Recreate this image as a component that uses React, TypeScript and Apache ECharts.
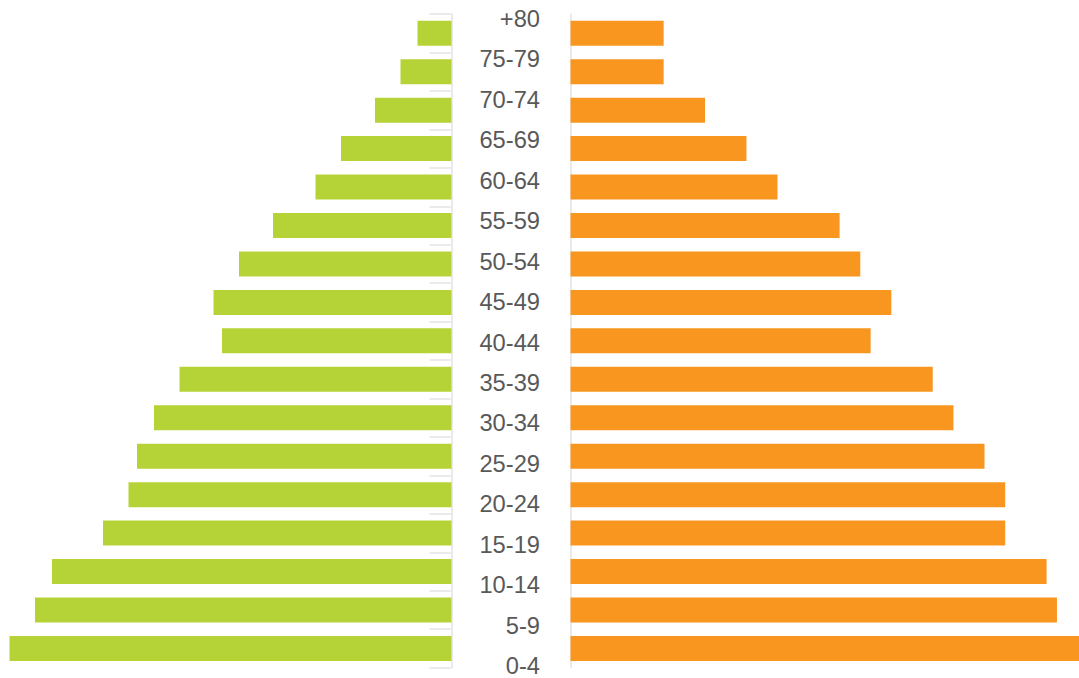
import React, { useEffect, useRef } from "react";
import * as echarts from "echarts";

const ageGroups = [
  "0-4", "5-9", "10-14", "15-19", "20-24", "25-29", "30-34", "35-39",
  "40-44", "45-49", "50-54", "55-59", "60-64", "65-69", "70-74", "75-79", "+80",
];
const leftValues = [52, 49, 47, 41, 38, 37, 35, 32, 27, 28, 25, 21, 16, 13, 9, 6, 4];
const rightValues = [50, 47, 46, 42, 42, 40, 37, 35, 29, 31, 28, 26, 20, 17, 13, 9, 9];

const GREEN = "#b5d336";
const ORANGE = "#f99620";
const AXIS_GRAY = "#e3e3e3";

export default function App() {
  const ref = useRef<HTMLDivElement>(null);

  useEffect(() => {
    if (!ref.current) return;
    const chart = echarts.init(ref.current, null, { renderer: "svg" });
    const barTop = 14;
    const barHeight = 653.7;
    const rightWidth = 508.5;
    const rightMax = rightWidth / 10.35;
    chart.setOption({
      animation: false,
      backgroundColor: "#ffffff",
      grid: [
        { left: 9.5, width: 442, top: barTop, height: barHeight },
        { left: 570.5, width: rightWidth, top: barTop, height: barHeight },
        { left: 541, width: 1, top: 19, height: 650 },
      ],
      xAxis: [
        { type: "value", gridIndex: 0, min: 0, max: 52, inverse: true, show: false },
        { type: "value", gridIndex: 1, min: 0, max: rightMax, show: false },
        { type: "value", gridIndex: 2, min: 0, max: 1, show: false },
      ],
      yAxis: [
        {
          type: "category",
          gridIndex: 0,
          data: ageGroups,
          position: "right",
          axisLine: { show: true, lineStyle: { color: AXIS_GRAY, width: 1.5 } },
          axisTick: { show: true, inside: true, length: 22, lineStyle: { color: "#e6e6e6", width: 1.6 } },
          axisLabel: { show: false },
          splitLine: { show: false },
        },
        {
          type: "category",
          gridIndex: 1,
          data: ageGroups,
          position: "left",
          axisLine: { show: true, lineStyle: { color: AXIS_GRAY, width: 1.5 } },
          axisTick: { show: false },
          axisLabel: { show: false },
          splitLine: { show: false },
        },
        {
          type: "category",
          gridIndex: 2,
          data: ageGroups,
          position: "left",
          boundaryGap: false,
          axisLine: { show: false },
          axisTick: { show: false },
          splitLine: { show: false },
          axisLabel: {
            show: true,
            interval: 0,
            margin: 1,
            align: "right",
            color: "#595959",
            fontSize: 23.7,
            fontFamily: "Liberation Sans, Arial, sans-serif",
          },
        },
      ],
      series: [
        {
          type: "bar",
          xAxisIndex: 0,
          yAxisIndex: 0,
          data: leftValues,
          barWidth: 25,
          itemStyle: { color: GREEN },
          silent: true,
        },
        {
          type: "bar",
          xAxisIndex: 1,
          yAxisIndex: 1,
          data: rightValues,
          barWidth: 25,
          clip: true,
          itemStyle: { color: ORANGE },
          silent: true,
        },
      ],
    });
    return () => chart.dispose();
  }, []);

  return (
    <div
      ref={ref}
      style={{ position: "fixed", left: 0, top: 0, width: 1079, height: 678 }}
    />
  );
}
